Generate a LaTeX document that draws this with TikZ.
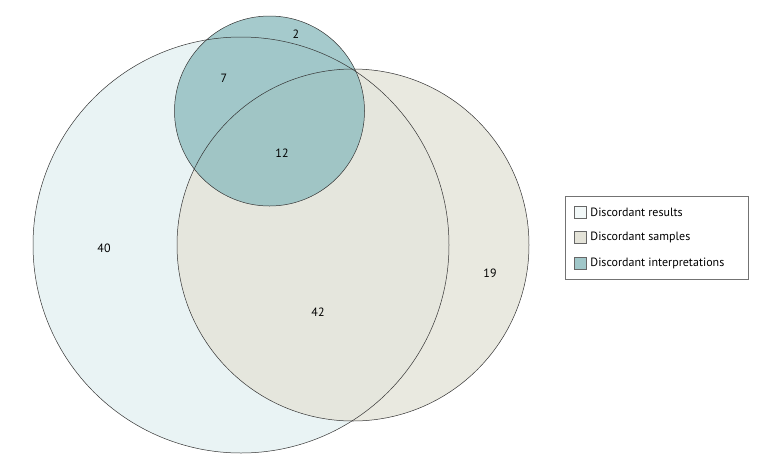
\documentclass[tikz,border=0pt]{standalone}
\usepackage{fontspec}
\setmainfont{PT Sans}
\usetikzlibrary{positioning}
\definecolor{resultsc}{HTML}{E9F3F4}
\definecolor{samplesc}{HTML}{E4E3D8}
\definecolor{interpc}{HTML}{8FBDBF}

\begin{document}
\begin{tikzpicture}[x=1pt, y=-1pt,
  set/.style={draw=black!80, line width=0.5pt},
  count/.style={font=\fontsize{12}{14}\selectfont},
  swatch/.style={draw=black!60, line width=0.4pt, minimum width=12pt, minimum height=12pt, inner sep=0pt},
  entry/.style={anchor=west, xshift=3pt, font=\fontsize{12}{14}\selectfont, inner sep=1pt}
]
\useasboundingbox (0,0) rectangle (780,467);
% sets
\fill[resultsc] (241,245) circle (208);
\fill[samplesc, fill opacity=0.8] (353,245) circle (176);
\fill[interpc, fill opacity=0.8] (269.5,111) circle (95);
\draw[set] (241,245) circle (208);
\draw[set] (353,245) circle (176);
\draw[set] (269.5,111) circle (95);
% counts
\node[count] (n2) at (296,34) {2};
\node[count] (n7) at (224,78) {7};
\node[count] (n12) at (282,153) {12};
\node[count] (n40) at (104,248) {40};
\node[count] (n42) at (318,312) {42};
\node[count] (n19) at (490,273) {19};
% legend
\draw[draw=black!55, line width=0.5pt] (565,196) rectangle (748,279);
\node[swatch, fill=resultsc!60] (sw1) at (580,212) {};
\node[swatch, fill=samplesc] (sw2) at (580,237.5) {};
\node[swatch, fill=interpc!85] (sw3) at (580,263) {};
\node[entry] (l1) at (sw1.east) {Discordant results};
\node[entry] (l2) at (sw2.east) {Discordant samples};
\node[entry] (l3) at (sw3.east) {Discordant interpretations};
\end{tikzpicture}
\end{document}
